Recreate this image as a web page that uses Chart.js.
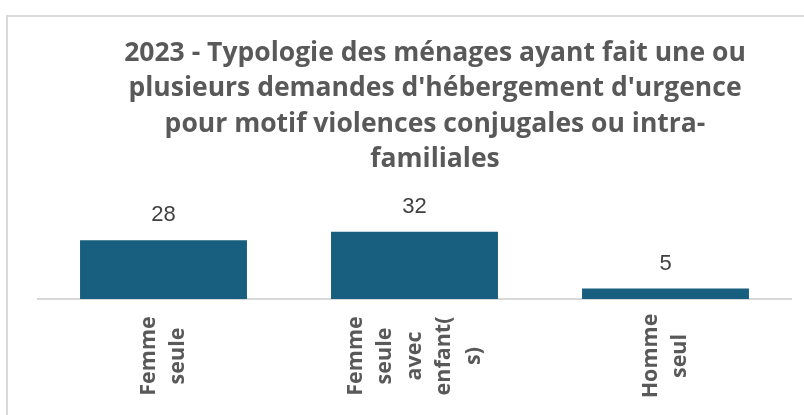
<!DOCTYPE html>
<html>
<head>
<meta charset="utf-8">
<script src="https://cdn.jsdelivr.net/npm/chart.js@4"></script>
<style>
  html, body { margin: 0; padding: 0; background: #fff; overflow: hidden; }
  #frame { position: absolute; left: 6px; top: 15px; width: 900px; height: 500px; border: 2px solid #d9d9d9; }
  #wrap { position: absolute; left: 0; top: 0; width: 804px; height: 415px; }
</style>
</head>
<body>
<div id="frame"></div>
<div id="wrap"><canvas id="chart"></canvas></div>
<script>
const categories = [['Femme', 'seule'], ['Femme', 'seule', 'avec', 'enfant(', 's)'], ['Homme', 'seul']];
const values = [28, 32, 5];
const titleLines = [
  "2023 - Typologie des ménages ayant fait une ou",
  "plusieurs demandes d'hébergement d'urgence",
  "pour motif violences conjugales ou intra-",
  "familiales"
];

// title, data labels and wrapped vertical category labels
const extras = {
  id: 'extras',
  afterDraw(chart) {
    const ctx = chart.ctx;
    ctx.save();
    ctx.fillStyle = '#595959';
    ctx.font = 'bold 26.5px "Open Sans", sans-serif';
    ctx.textAlign = 'center';
    ctx.textBaseline = 'alphabetic';
    titleLines.forEach((t, i) => ctx.fillText(t, 435, 61 + i * 35.3));

    const meta = chart.getDatasetMeta(0);
    ctx.font = '22px "Liberation Sans", Arial, sans-serif';
    ctx.fillStyle = '#404040';
    ctx.textBaseline = 'middle';
    meta.data.forEach((bar, i) => ctx.fillText(values[i], bar.x, bar.y - 25));

    const xs = chart.scales.x;
    ctx.font = 'bold 21.5px "Open Sans", sans-serif';
    ctx.fillStyle = '#595959';
    categories.forEach((lines, i) => {
      const cx = xs.getPixelForValue(i);
      ctx.save();
      ctx.translate(cx, 356);
      ctx.rotate(-Math.PI / 2);
      lines.forEach((l, j) => {
        ctx.fillText(l, 0, (j - (lines.length - 1) / 2) * 29.5);
      });
      ctx.restore();
    });
    ctx.restore();
  }
};

new Chart(document.getElementById('chart'), {
  type: 'bar',
  data: {
    labels: categories.map(c => c.join(' ')),
    datasets: [{
      data: values,
      backgroundColor: '#175e7f',
      categoryPercentage: 1,
      barPercentage: 0.665
    }]
  },
  options: {
    responsive: true,
    maintainAspectRatio: false,
    animation: false,
    layout: { padding: { left: 38, right: 13, top: 215, bottom: 108 } },
    plugins: { legend: { display: false }, tooltip: { enabled: false }, title: { display: false } },
    scales: {
      x: {
        grid: { display: false },
        border: { display: true, color: '#d9d9d9', width: 2 },
        ticks: { display: false }
      },
      y: { display: false, min: 0, max: 40 }
    }
  },
  plugins: [extras]
});
</script>
</body>
</html>
